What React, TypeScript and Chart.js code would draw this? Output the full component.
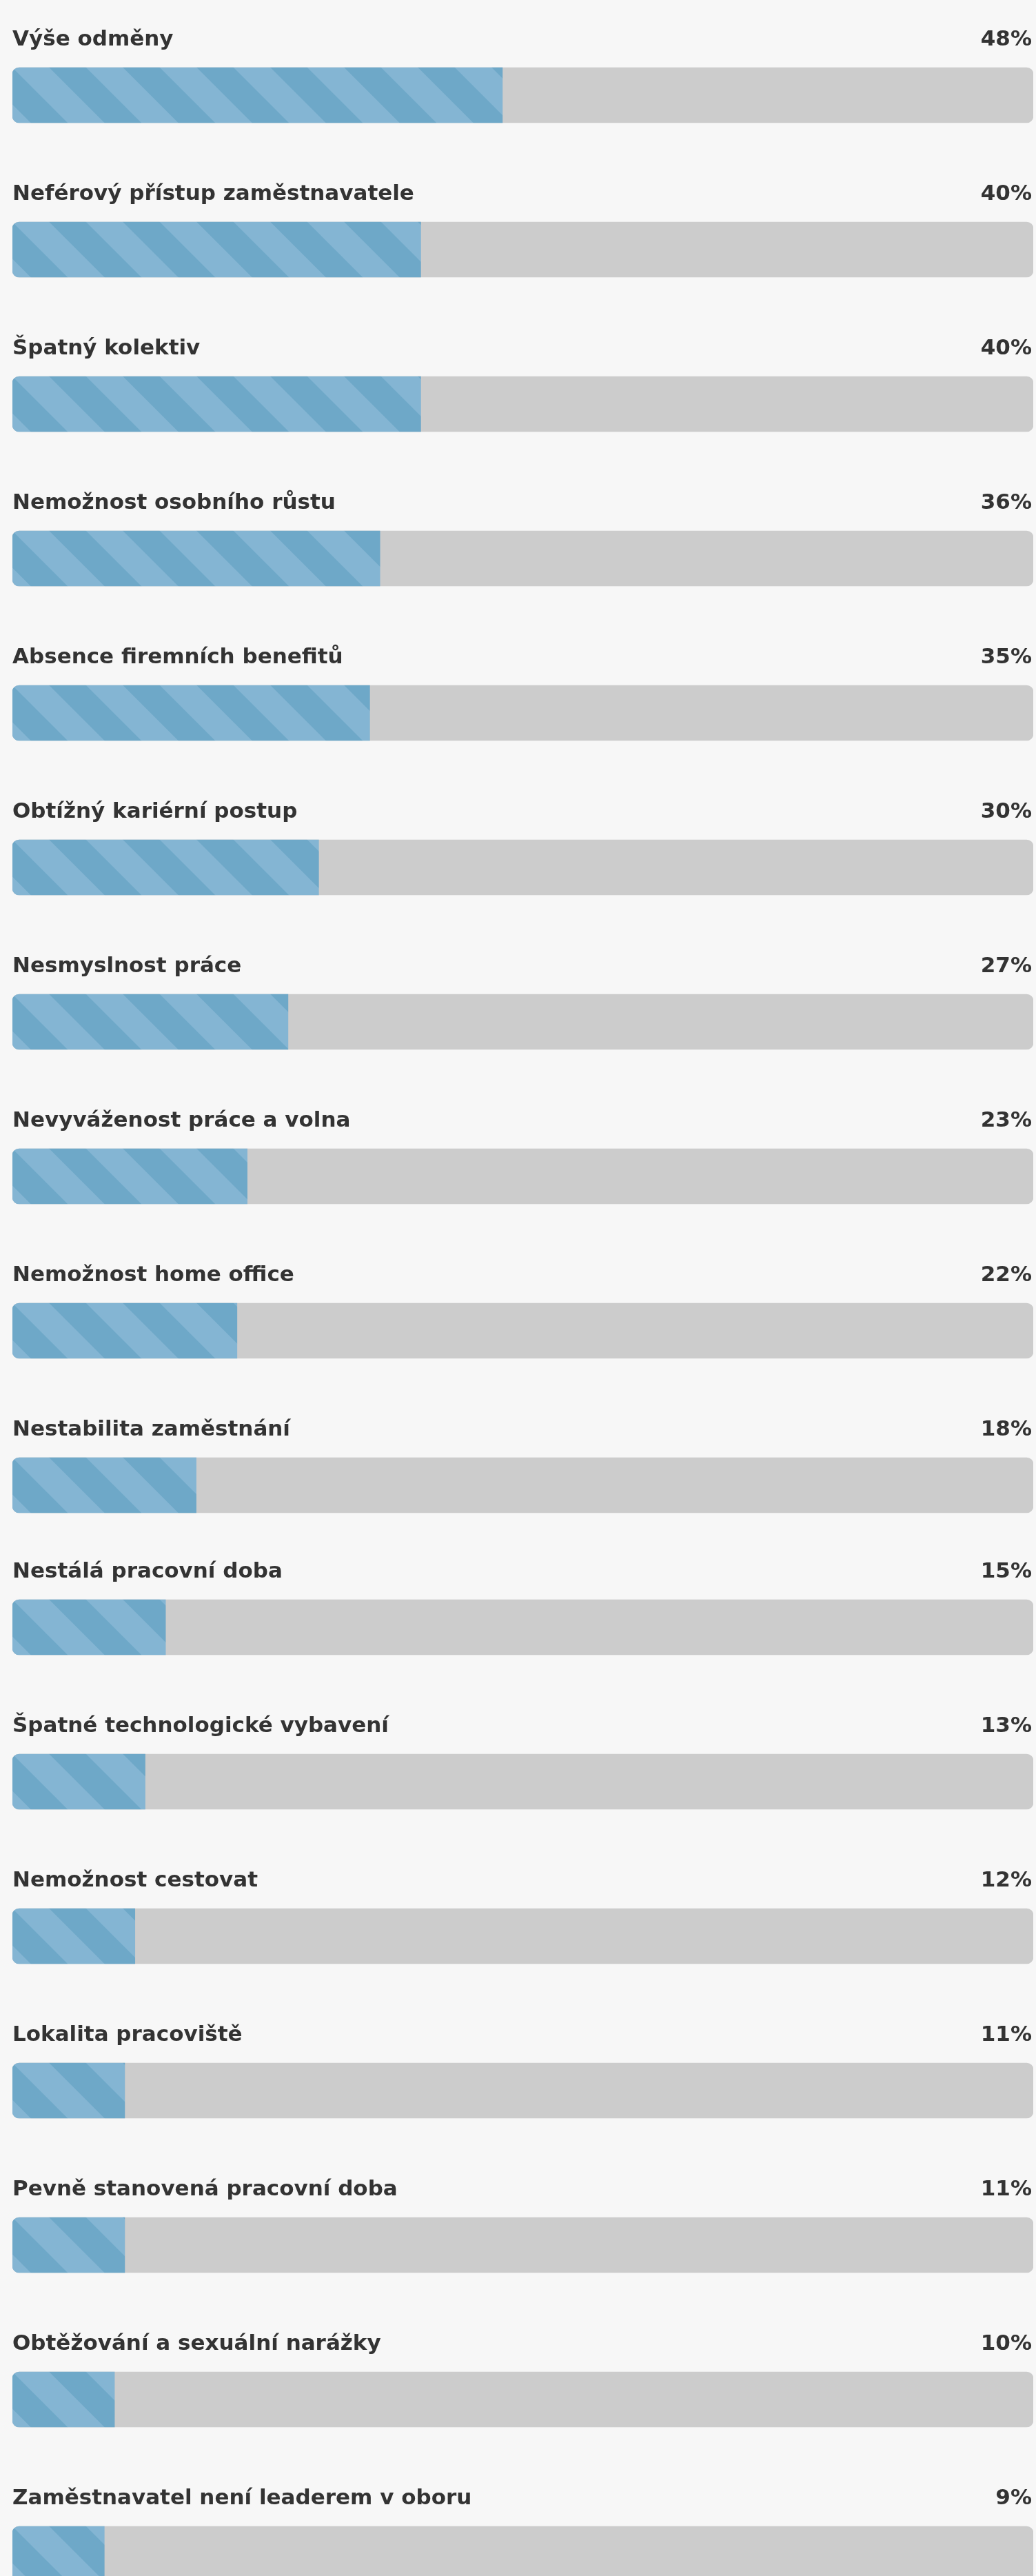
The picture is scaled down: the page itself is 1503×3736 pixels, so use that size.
import React, { useEffect, useRef } from "react";
import { Chart, registerables } from "chart.js";

Chart.register(...registerables);

const categories = [
  "Výše odměny",
  "Neférový přístup zaměstnavatele",
  "Špatný kolektiv",
  "Nemožnost osobního růstu",
  "Absence firemních benefitů",
  "Obtížný kariérní postup",
  "Nesmyslnost práce",
  "Nevyváženost práce a volna",
  "Nemožnost home office",
  "Nestabilita zaměstnání",
  "Nestálá pracovní doba",
  "Špatné technologické vybavení",
  "Nemožnost cestovat",
  "Lokalita pracoviště",
  "Pevně stanovená pracovní doba",
  "Obtěžování a sexuální narážky",
  "Zaměstnavatel není leaderem v oboru",
];

const values = [48, 40, 40, 36, 35, 30, 27, 23, 22, 18, 15, 13, 12, 11, 11, 10, 9];

const scaleMax = 100;
const firstBlockSize = 10;

const LIGHT = "#84b5d3";
const DARK = "#6ea8c8";
const TRACK = "#cccccc";
const TEXT = "#333333";
const BG = "#f7f7f7";
const STRIPE = 107;
const BAR = 80;
const ROW = 224;
const FONT = "bold 31px 'DejaVu Sans'";

let tileCache: HTMLCanvasElement | null = null;
function getTile(): HTMLCanvasElement {
  if (tileCache) return tileCache;
  const P = STRIPE;
  const c = document.createElement("canvas");
  c.width = P;
  c.height = P;
  const g = c.getContext("2d")!;
  g.fillStyle = DARK;
  g.fillRect(0, 0, P, P);
  g.fillStyle = LIGHT;
  g.beginPath();
  g.moveTo(0, 0);
  g.lineTo(P / 2, 0);
  g.lineTo(P, P / 2);
  g.lineTo(P, P);
  g.closePath();
  g.fill();
  g.beginPath();
  g.moveTo(0, P / 2);
  g.lineTo(P / 2, P);
  g.lineTo(0, P);
  g.closePath();
  g.fill();
  tileCache = c;
  return c;
}

const rowLabelsPlugin = {
  id: "rowLabels",
  afterDatasetsDraw(chart: any) {
    const meta = chart.getDatasetMeta(1);
    const vals = chart.data.datasets[0].data as number[];
    const { ctx, chartArea } = chart;
    ctx.save();
    ctx.font = FONT;
    ctx.fillStyle = TEXT;
    ctx.textBaseline = "alphabetic";
    meta.data.forEach((el: any, i: number) => {
      const { y, height } = el.getProps(["y", "height"], true);
      const top = y - height / 2;
      const base = top - 32;
      ctx.textAlign = "left";
      ctx.fillText(String(chart.data.labels[i]), chartArea.left, base);
      ctx.textAlign = "right";
      ctx.fillText(vals[i] + "%", chartArea.right - 2, base);
    });
    ctx.restore();
  },
};

function BarPanel(props: { labels: string[]; data: number[]; top: number; padTop: number }) {
  const ref = useRef<HTMLCanvasElement | null>(null);
  const { labels, data, top, padTop } = props;
  const height = padTop + labels.length * ROW + 4;

  useEffect(() => {
    if (!ref.current) return;
    const stripeFill = (ctx: any) => {
      const chart = ctx.chart;
      const ys = chart.scales && chart.scales.y;
      const xs = chart.scales && chart.scales.x;
      if (ctx.type !== "data" || !ys || !xs) return DARK;
      const barTop = ys.getPixelForValue(ctx.dataIndex) - BAR / 2;
      const left = xs.getPixelForValue(0);
      const pat = chart.ctx.createPattern(getTile(), "repeat");
      if (!pat) return DARK;
      pat.setTransform(new DOMMatrix().translate(left, barTop));
      return pat;
    };
    const chart = new Chart(ref.current, {
      type: "bar",
      data: {
        labels,
        datasets: [
          {
            label: "value",
            data,
            backgroundColor: stripeFill,
            borderWidth: 0,
            borderSkipped: false,
            borderRadius: { topLeft: 10, bottomLeft: 10, topRight: 0, bottomRight: 0 },
            barThickness: BAR,
            grouped: false,
            order: 0,
          },
          {
            label: "track",
            data: labels.map(() => scaleMax),
            backgroundColor: TRACK,
            borderWidth: 0,
            borderSkipped: false,
            borderRadius: 10,
            barThickness: BAR,
            grouped: false,
            order: 1,
          },
        ],
      },
      options: {
        indexAxis: "y",
        animation: false,
        responsive: true,
        maintainAspectRatio: false,
        events: [],
        layout: { padding: { left: 18, right: 4, top: padTop, bottom: 4 } },
        scales: {
          x: { type: "linear", min: 0, max: scaleMax, display: false },
          y: { type: "category", display: false, offset: true },
        },
        plugins: {
          legend: { display: false },
          tooltip: { enabled: false },
          title: { display: false },
        },
      },
      plugins: [rowLabelsPlugin],
    } as any);
    return () => chart.destroy();
  }, []);

  return (
    <div style={{ position: "absolute", left: 0, top, width: 1503, height }}>
      <canvas ref={ref} />
    </div>
  );
}

export default function App() {
  useEffect(() => {
    document.body.style.background = BG;
  }, []);
  return (
    <div
      style={{
        position: "absolute",
        left: 0,
        top: 0,
        width: 1503,
        height: 3736,
        overflow: "hidden",
        background: BG,
      }}
    >
      <BarPanel
        labels={categories.slice(0, firstBlockSize)}
        data={values.slice(0, firstBlockSize)}
        top={0}
        padTop={26}
      />
      <BarPanel
        labels={categories.slice(firstBlockSize)}
        data={values.slice(firstBlockSize)}
        top={2230}
        padTop={18}
      />
    </div>
  );
}
